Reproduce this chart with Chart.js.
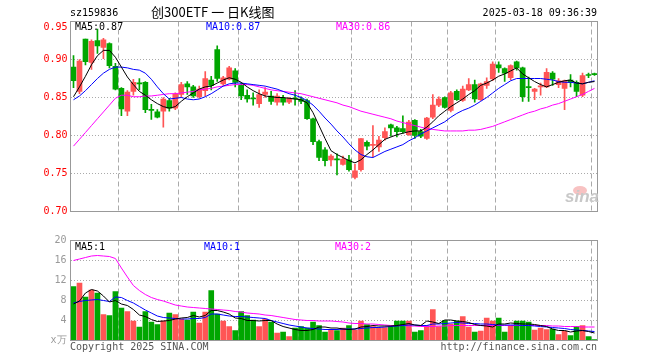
<!DOCTYPE html>
<html><head><meta charset="utf-8">
<script src="https://cdn.jsdelivr.net/npm/chart.js@4"></script>
<style>
html,body{margin:0;padding:0;background:#fff;}
#wrap{position:relative;width:660px;height:360px;overflow:hidden;background:#fff;}
canvas{position:absolute;left:0;top:0;}
.t{position:absolute;font-family:'DejaVu Sans Mono',monospace;font-size:10px;line-height:10px;white-space:pre;}
</style></head><body>
<div id="wrap">
<canvas id="c1" width="660" height="360"></canvas>
<canvas id="c2" width="660" height="360"></canvas>
<div class="t" style="left:70px;top:7.5px;color:#000;">sz159836</div>
<div style="position:absolute;left:151px;top:5px;font-family:'Noto Sans CJK SC',sans-serif;font-size:13px;line-height:13px;color:#000;white-space:pre;">创300ETF 一 日K线图</div>
<div class="t" style="right:63px;top:7.5px;color:#000;">2025-03-18 09:36:39</div>
<div class="t" style="left:75px;top:21.5px;color:#000;">MA5:0.87</div>
<div class="t" style="left:206px;top:21.5px;color:#0000ff;">MA10:0.87</div>
<div class="t" style="left:336px;top:21.5px;color:#ff00ff;">MA30:0.86</div>
<div class="t" style="left:75px;top:241.5px;color:#000;">MA5:1</div>
<div class="t" style="left:204px;top:241.5px;color:#0000ff;">MA10:1</div>
<div class="t" style="left:335px;top:241.5px;color:#ff00ff;">MA30:2</div>
<div class="t" style="left:70px;top:341.5px;color:#555;">Copyright 2025 SINA.COM</div>
<div class="t" style="right:63px;top:341.5px;color:#555;">http://finance.sina.com.cn</div>
<div style="position:absolute;left:573px;top:186px;width:14px;height:9px;border-radius:50%;background:rgba(240,120,120,0.45);"></div>
<div style="position:absolute;left:565px;top:188px;font-family:'Liberation Sans',sans-serif;font-style:italic;font-weight:bold;font-size:17px;line-height:17px;color:#c8c8c8;">sina</div>
</div>
<script>
const dates = [
'2024-11-06','2024-11-07','2024-11-08','2024-11-11','2024-11-12','2024-11-13','2024-11-14','2024-11-15',
'2024-11-18','2024-11-19','2024-11-20','2024-11-21','2024-11-22',
'2024-11-25','2024-11-26','2024-11-27','2024-11-28','2024-11-29',
'2024-12-02','2024-12-03','2024-12-04','2024-12-05','2024-12-06',
'2024-12-09','2024-12-10','2024-12-11','2024-12-12','2024-12-13',
'2024-12-16','2024-12-17','2024-12-18','2024-12-19','2024-12-20',
'2024-12-23','2024-12-24','2024-12-25','2024-12-26','2024-12-27',
'2024-12-30','2024-12-31','2025-01-02','2025-01-03',
'2025-01-06','2025-01-07','2025-01-08','2025-01-09','2025-01-10',
'2025-01-13','2025-01-14','2025-01-15','2025-01-16','2025-01-17',
'2025-01-20','2025-01-21','2025-01-22','2025-01-23','2025-01-24',
'2025-01-27','2025-02-05','2025-02-06','2025-02-07','2025-02-10','2025-02-11',
'2025-02-12','2025-02-13','2025-02-14',
'2025-02-17','2025-02-18','2025-02-19','2025-02-20','2025-02-21',
'2025-02-24','2025-02-25','2025-02-26','2025-02-27','2025-02-28',
'2025-03-03','2025-03-04','2025-03-05','2025-03-06','2025-03-07',
'2025-03-10','2025-03-11','2025-03-12','2025-03-13','2025-03-14',
'2025-03-17','2025-03-18'];

const tickDates = ['2024-11-18','2024-12-02','2024-12-16','2024-12-30','2025-01-13','2025-01-27','2025-02-12','2025-02-24','2025-03-18'];
const tickLabels = ['2024-11-18','12-02','12-16','12-30','2025-01-13','01-27','02-12','02-24','03-18'];
const priceTicks = [0.70,0.75,0.80,0.85,0.90,0.95];
const volTicks = [0,4,8,12,16,20];

const open = [0.890,0.858,0.927,0.896,0.925,0.916,0.921,0.891,0.862,0.832,
0.858,0.869,0.870,0.834,0.831,0.832,0.846,0.836,0.854,0.868,
0.864,0.851,0.859,0.873,0.913,0.868,0.874,0.885,0.866,0.853,
0.849,0.842,0.854,0.852,0.844,0.849,0.844,0.849,0.848,0.846,
0.822,0.792,0.781,0.768,0.769,0.762,0.768,0.745,0.755,0.791,
0.787,0.785,0.797,0.814,0.810,0.809,0.801,0.820,0.805,0.796,
0.824,0.840,0.850,0.833,0.858,0.846,0.860,0.867,0.847,0.866,
0.8745,0.893,0.888,0.876,0.897,0.889,0.864,0.858,0.864,0.864,
0.882,0.867,0.862,0.873,0.870,0.853,0.880,0.881];
const high = [0.905,0.900,0.927,0.926,0.940,0.928,0.922,0.895,0.863,0.859,
0.874,0.875,0.871,0.841,0.834,0.850,0.849,0.856,0.870,0.871,
0.866,0.865,0.884,0.878,0.918,0.878,0.891,0.888,0.869,0.860,
0.856,0.860,0.863,0.858,0.855,0.853,0.850,0.859,0.851,0.848,
0.823,0.794,0.784,0.775,0.776,0.773,0.774,0.762,0.796,0.793,
0.813,0.799,0.810,0.815,0.812,0.826,0.820,0.821,0.808,0.824,
0.854,0.851,0.851,0.858,0.860,0.865,0.875,0.873,0.869,0.876,
0.897,0.897,0.889,0.893,0.898,0.890,0.877,0.862,0.869,0.888,
0.884,0.875,0.873,0.880,0.872,0.882,0.882,0.882];
const low = [0.863,0.855,0.893,0.887,0.908,0.901,0.889,0.860,0.826,0.826,
0.853,0.860,0.830,0.821,0.823,0.811,0.832,0.834,0.850,0.854,
0.850,0.849,0.852,0.860,0.871,0.866,0.873,0.864,0.847,0.844,
0.840,0.837,0.850,0.841,0.840,0.840,0.842,0.840,0.842,0.821,
0.788,0.767,0.760,0.760,0.748,0.761,0.753,0.743,0.753,0.781,
0.772,0.779,0.794,0.799,0.798,0.803,0.800,0.796,0.797,0.795,
0.822,0.838,0.836,0.831,0.846,0.845,0.859,0.844,0.846,0.862,
0.872,0.883,0.871,0.873,0.886,0.845,0.845,0.847,0.853,0.863,
0.866,0.863,0.834,0.864,0.851,0.851,0.876,0.879];
const close = [0.872,0.898,0.897,0.924,0.918,0.926,0.892,0.861,0.835,0.857,
0.870,0.868,0.834,0.833,0.824,0.848,0.836,0.8545,0.867,0.864,
0.852,0.861,0.875,0.866,0.875,0.876,0.889,0.870,0.852,0.848,
0.848,0.854,0.857,0.845,0.852,0.844,0.849,0.848,0.845,0.822,
0.792,0.771,0.767,0.773,0.768,0.769,0.755,0.7535,0.796,0.786,
0.788,0.794,0.805,0.810,0.805,0.805,0.8175,0.800,0.799,0.823,
0.840,0.848,0.837,0.856,0.847,0.861,0.867,0.848,0.868,0.871,
0.894,0.889,0.882,0.892,0.889,0.851,0.863,0.861,0.865,0.883,
0.874,0.872,0.872,0.870,0.858,0.879,0.879,0.880];

const ma5 = [0.851,0.864,0.878,0.893,0.905,0.912,0.912,0.903,0.890,0.877,
0.867,0.858,0.853,0.847,0.842,0.838,0.836,0.838,0.845,0.851,
0.856,0.861,0.864,0.865,0.869,0.873,0.876,0.874,0.870,0.864,
0.859,0.855,0.852,0.851,0.850,0.850,0.849,0.848,0.847,0.843,
0.830,0.813,0.796,0.780,0.775,0.771,0.767,0.764,0.768,0.775,
0.781,0.788,0.795,0.798,0.801,0.803,0.805,0.806,0.806,0.811,
0.818,0.826,0.832,0.838,0.843,0.848,0.854,0.859,0.866,0.869,
0.873,0.878,0.881,0.885,0.889,0.881,0.876,0.871,0.867,0.864,
0.867,0.870,0.872,0.873,0.869,0.868,0.870,0.871];
const ma10 = [0.847,0.852,0.859,0.867,0.875,0.882,0.887,0.890,0.890,0.889,
0.887,0.886,0.882,0.874,0.864,0.855,0.848,0.849,0.850,0.848,
0.847,0.848,0.851,0.855,0.860,0.865,0.868,0.869,0.869,0.868,
0.867,0.866,0.865,0.863,0.861,0.858,0.855,0.853,0.850,0.846,
0.840,0.832,0.823,0.815,0.806,0.798,0.789,0.781,0.775,0.772,
0.771,0.775,0.779,0.782,0.785,0.788,0.793,0.797,0.802,0.806,
0.810,0.814,0.818,0.824,0.829,0.833,0.836,0.840,0.845,0.850,
0.856,0.862,0.867,0.872,0.875,0.875,0.875,0.875,0.875,0.874,
0.873,0.871,0.870,0.870,0.869,0.868,0.870,0.872];
const ma30 = [0.786,0.795,0.804,0.813,0.822,0.831,0.840,0.849,0.853,0.853,
0.851,0.851,0.852,0.852,0.853,0.854,0.855,0.855,0.856,0.857,
0.858,0.860,0.861,0.862,0.864,0.865,0.866,0.867,0.867,0.867,
0.866,0.864,0.862,0.860,0.859,0.858,0.857,0.856,0.855,0.853,
0.851,0.849,0.847,0.845,0.843,0.840,0.838,0.835,0.832,0.830,
0.828,0.826,0.824,0.822,0.819,0.817,0.815,0.813,0.811,0.809,
0.808,0.807,0.806,0.806,0.806,0.806,0.807,0.807,0.808,0.810,
0.812,0.815,0.818,0.821,0.824,0.827,0.830,0.832,0.835,0.837,
0.840,0.842,0.845,0.848,0.851,0.854,0.858,0.862];

const volume = [10.8,11.5,8.7,10.1,9.5,5.2,5.0,9.8,6.5,5.8,
3.9,2.7,5.8,3.7,3.2,3.9,5.5,5.2,4.3,4.1,
5.7,3.5,5.7,10.0,5.3,3.9,2.8,2.0,5.8,5.0,
4.1,2.8,4.3,3.7,1.5,1.7,0.8,2.5,2.8,2.5,
3.7,3.0,1.7,2.1,2.0,2.5,3.0,2.1,3.9,3.2,
2.8,2.5,2.6,2.8,3.9,3.9,3.9,1.7,2.0,3.0,
6.2,2.8,4.0,3.3,3.9,4.8,2.7,1.7,1.9,4.5,
3.9,4.5,1.7,3.0,3.9,3.9,3.7,2.1,2.5,2.2,
2.3,1.2,1.9,1.0,2.8,3.0,0.8,0.2];
const volMa5 = [7.3,7.9,9.5,10.2,9.9,8.9,7.7,8.0,7.3,7.0,
6.2,5.1,4.8,4.2,3.8,3.9,4.0,4.3,4.5,4.6,
5.0,4.7,5.0,6.0,6.0,5.7,5.3,4.5,4.4,4.0,
4.0,3.9,4.0,4.0,3.3,2.8,2.5,2.2,2.0,2.0,
2.2,2.7,2.7,2.5,2.5,2.3,2.2,2.3,2.7,2.8,
3.0,2.9,2.9,2.9,3.0,3.2,3.4,3.1,3.0,3.9,
3.7,3.4,4.1,4.1,3.9,3.8,3.6,3.2,3.0,2.9,
2.7,3.3,3.3,3.5,3.4,3.3,3.3,3.2,3.0,2.8,
2.3,2.0,2.0,1.7,1.9,2.0,1.8,1.5];
const volMa10 = [7.5,7.8,8.0,8.1,8.2,8.0,7.8,8.7,8.6,8.0,
7.5,6.8,6.1,5.5,4.9,4.6,4.5,4.4,4.3,4.3,
4.4,4.4,4.6,5.3,5.3,5.1,4.9,4.8,4.8,4.7,
4.6,4.5,4.4,4.0,3.7,3.4,3.1,2.9,2.7,2.5,
2.4,2.3,2.2,2.2,2.2,2.3,2.3,2.3,2.4,2.5,
2.6,2.6,2.7,2.8,2.9,3.0,3.1,3.1,3.0,3.0,
3.3,3.3,3.4,3.5,3.6,3.5,3.4,3.4,3.3,3.3,
3.2,3.1,3.1,3.1,3.1,3.0,3.0,2.9,2.8,2.7,
2.6,2.5,2.4,2.2,2.1,2.0,1.9,1.8];
const volMa30 = [16.0,16.3,16.6,16.9,17.0,16.9,16.8,16.4,14.5,12.7,
11.0,10.0,9.2,8.6,8.2,7.9,7.5,7.1,6.9,6.7,
6.6,6.5,6.4,6.3,6.2,6.1,6.0,5.8,5.7,5.5,
5.4,5.3,5.1,5.0,4.8,4.6,4.4,4.2,4.1,4.0,
4.0,3.9,3.9,3.9,3.8,3.7,3.5,3.4,3.4,3.3,
3.3,3.2,3.1,3.0,3.0,3.0,2.9,2.9,2.8,2.8,
2.8,2.9,2.9,3.0,3.0,3.0,3.0,3.0,3.0,3.0,
3.0,3.0,3.0,3.0,3.0,3.0,3.0,3.0,3.0,3.0,
2.9,2.9,2.8,2.8,2.8,2.7,2.7,2.7];

const RED = '#ff5555', GREEN = '#00a600';
const isUp = i => close[i] >= open[i];
const candleColor = ctx => isUp(ctx.dataIndex) ? RED : GREEN;
const tickIdx = tickDates.map(d => dates.indexOf(d));
const FONT = {family:"'DejaVu Sans Mono', monospace", size:10};

const framePlugin = {
  id:'frame',
  afterDatasetsDraw(chart){
    const a = chart.chartArea, c = chart.ctx;
    c.save(); c.strokeStyle = '#999'; c.lineWidth = 1; c.setLineDash([]);
    c.strokeRect(a.left, a.top, a.right - a.left, a.bottom - a.top);
    c.restore();
  }
};

function lineDs(data, color){
  return {type:'line', data, borderColor:color, borderWidth:1, pointRadius:0, fill:false, tension:0, order:0};
}

function xScale(showLabels){
  return {
    type:'category', offset:true,
    grid:{offset:true, drawTicks:false, lineWidth:1,
      color: ctx => tickIdx.includes(ctx.index) ? '#aaa' : 'rgba(0,0,0,0)'},
    border:{display:false, dash:[5,3]},
    ticks:{display:showLabels, autoSkip:false, maxRotation:0, minRotation:0, padding:4, labelOffset:-3,
      color:'#0a88d8', font:FONT,
      callback:(v,i) => { const j = tickIdx.indexOf(i); if (j < 0) return ''; return j === tickLabels.length-1 ? tickLabels[j] + '    ' : tickLabels[j]; }},
    afterFit: s => { s.height = 0; }
  };
}

new Chart(document.getElementById('c1'), {
  type:'bar',
  data:{
    labels:dates,
    datasets:[
      lineDs(ma5,'#000000'), lineDs(ma10,'#0000ff'), lineDs(ma30,'#ff00ff'),
      {type:'bar', data:dates.map((d,i)=>[open[i],close[i]]), backgroundColor:candleColor, barThickness:5, minBarLength:1, grouped:false, order:1},
      {type:'bar', data:dates.map((d,i)=>[low[i],high[i]]), backgroundColor:candleColor, barThickness:1, grouped:false, order:2}
    ]
  },
  options:{
    responsive:false, animation:false, events:[],
    layout:{padding:{left:0,right:62.5,top:21.5,bottom:148.5}},
    plugins:{legend:{display:false}, tooltip:{enabled:false}},
    scales:{
      x:xScale(true),
      y:{min:0.70, max:0.95,
        afterBuildTicks: s => { s.ticks = priceTicks.map(v => ({value:v})); },
        grid:{drawTicks:false, color: ctx => (ctx.tick && ctx.tick.value > 0.701 && ctx.tick.value < 0.949) ? '#aaa' : 'rgba(0,0,0,0)'},
        border:{display:false, dash:[1,2]},
        ticks:{padding:3, color:'#ff0000', font:FONT,
          callback: v => Number(v) > 0.949 ? ['', Number(v).toFixed(2)] : Number(v).toFixed(2)},
        afterFit: s => { s.width = 70.5; }
      }
    }
  },
  plugins:[framePlugin]
});

new Chart(document.getElementById('c2'), {
  type:'bar',
  data:{
    labels:dates,
    datasets:[
      lineDs(volMa5,'#000000'), lineDs(volMa10,'#0000ff'), lineDs(volMa30,'#ff00ff'),
      {type:'bar', data:volume, backgroundColor:candleColor, barThickness:5, grouped:false, order:1}
    ]
  },
  options:{
    responsive:false, animation:false, events:[],
    layout:{padding:{left:0,right:62.5,top:240.5,bottom:19.5}},
    plugins:{legend:{display:false}, tooltip:{enabled:false}},
    scales:{
      x:xScale(false),
      y:{min:0, max:20,
        afterBuildTicks: s => { s.ticks = volTicks.map(v => ({value:v})); },
        grid:{drawTicks:false, color: ctx => (ctx.tick && ctx.tick.value > 0 && ctx.tick.value < 20) ? '#aaa' : 'rgba(0,0,0,0)'},
        border:{display:false, dash:[1,2]},
        ticks:{padding:4, color:'#999', font:FONT, callback: v => v === 0 ? 'x万' : String(v)},
        afterFit: s => { s.width = 70.5; }
      }
    }
  },
  plugins:[framePlugin]
});
</script>
</body></html>
